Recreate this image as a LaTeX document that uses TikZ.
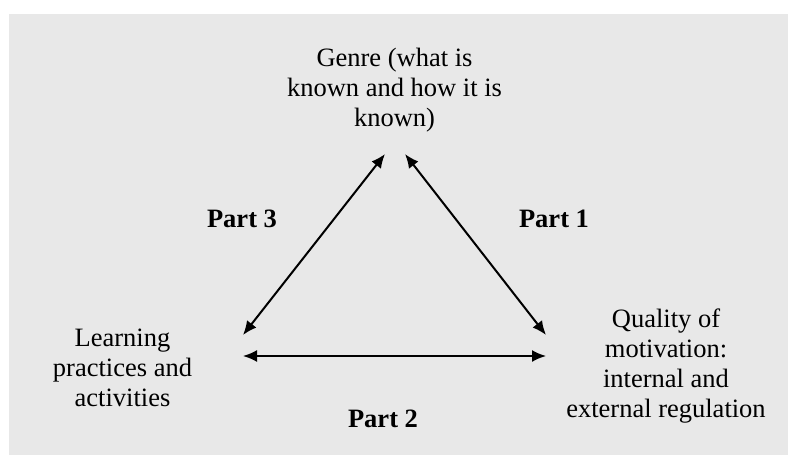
\documentclass[tikz,border=0pt]{standalone}
\usepackage{fontspec}
\setmainfont{Liberation Serif}
\usetikzlibrary{arrows.meta}
\definecolor{panelgray}{HTML}{E8E8E8}
\tikzset{
    label text/.style={font=\fontsize{26.5}{30}\selectfont, align=center, inner sep=0pt},
    part text/.style={font=\fontsize{26.5}{30}\selectfont\bfseries, anchor=base, inner sep=0pt},
    link/.style={{Latex[length=14pt,width=12pt]}-{Latex[length=14pt,width=12pt]}, line width=2pt}
}
\begin{document}
\begin{tikzpicture}[x=1pt,y=-1pt]
    \useasboundingbox (0,0) rectangle (788,455);
    % Background panel
    \fill[panelgray] (9,14) rectangle (788,455);

    % Define points
    \coordinate (genreL) at (385,154);
    \coordinate (genreR) at (405,154);
    \coordinate (learnT) at (243,335);
    \coordinate (learnR) at (243,356);
    \coordinate (qualT) at (546,335);
    \coordinate (qualL) at (546,356);

    % Corner texts
    \node[label text] (genre) at (394.5,90) {Genre (what is\\known and how it is\\known)};
    \node[label text] (learn) at (122.5,368) {Learning\\practices and\\activities};
    \node[label text] (qual) at (666,366.5) {Quality of\\motivation:\\internal and\\external regulation};

    % Part labels
    \node[part text] (part3) at (242,227) {Part 3};
    \node[part text] (part1) at (554,227) {Part 1};
    \node[part text] (part2) at (383,427) {Part 2};

    % Draw edges
    \draw[link] (genreL) -- (learnT);
    \draw[link] (genreR) -- (qualT);
    \draw[link] (learnR) -- (qualL);
\end{tikzpicture}
\end{document}
